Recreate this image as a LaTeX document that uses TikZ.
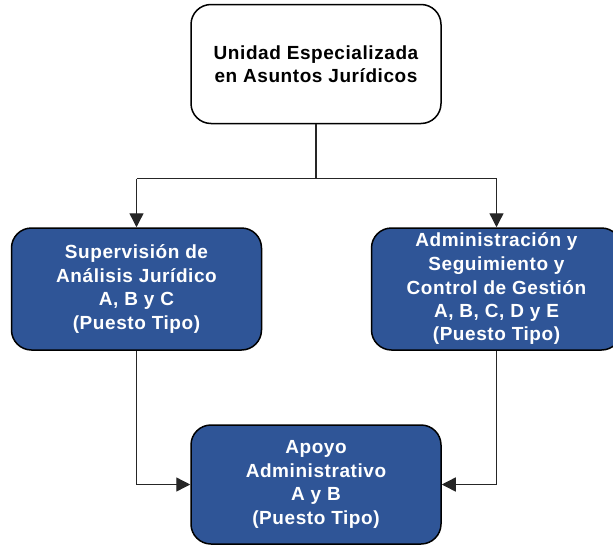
\documentclass[tikz,border=0pt]{standalone}
\usepackage{fontspec}
\setmainfont{Liberation Sans}[LetterSpace=3]
\usetikzlibrary{
  arrows.meta,
  positioning
}
\definecolor{ink}{HTML}{000000}
\definecolor{wire}{HTML}{262626}
\definecolor{navy}{HTML}{2F5597}
\tikzset{
  unitbox/.style={
    draw=ink,
    line width=1.5pt,
    rounded corners=20pt,
    align=center,
    font=\fontsize{19}{23.5}\selectfont\bfseries,
    minimum width=250pt,
    inner sep=0pt
  },
  topunit/.style={
    unitbox,
    fill=white,
    text=ink,
    minimum height=119pt
  },
  deptbox/.style={
    unitbox,
    fill=navy,
    text=white,
    minimum height=122pt
  },
  link/.style={
    draw=wire,
    line width=1.4pt
  },
  conn/.style={
    link,
    -{Triangle[length=14pt,width=14pt]}
  }
}

\begin{document}
\begin{tikzpicture}[x=1pt,y=-1pt]
  \clip (0,0) rectangle (613,546);
  \useasboundingbox (0,0) rectangle (613,546);

  \node[topunit] (ueaj) at (316,64) {Unidad Especializada\\en Asuntos Jurídicos};
  \node[deptbox] (super) at (136.5,289)
    {Supervisión de\\Análisis Jurídico\\A, B y C\\(Puesto Tipo)};
  \node[deptbox] (admin) at (496.5,289)
    {Administración y\\Seguimiento y\\Control de Gestión\\A, B, C, D y E\\(Puesto Tipo)};
  \node[deptbox, minimum height=119pt] (apoyo) at (316,484.5)
    {Apoyo\\Administrativo\\A y B\\(Puesto Tipo)};

  % reparto desde la unidad
  \draw[link] (ueaj.south) -- ++(0,54.5) coordinate (split);
  \draw[link] (super.north |- split) -- (admin.north |- split);
  \foreach \dept in {super,admin}{
    \draw[conn] (\dept.north |- split) -- (\dept.north);
  }

  % hacia apoyo administrativo
  \draw[conn] (super.south) |- (apoyo.west);
  \draw[conn] (admin.south) |- (apoyo.east);
\end{tikzpicture}
\end{document}
